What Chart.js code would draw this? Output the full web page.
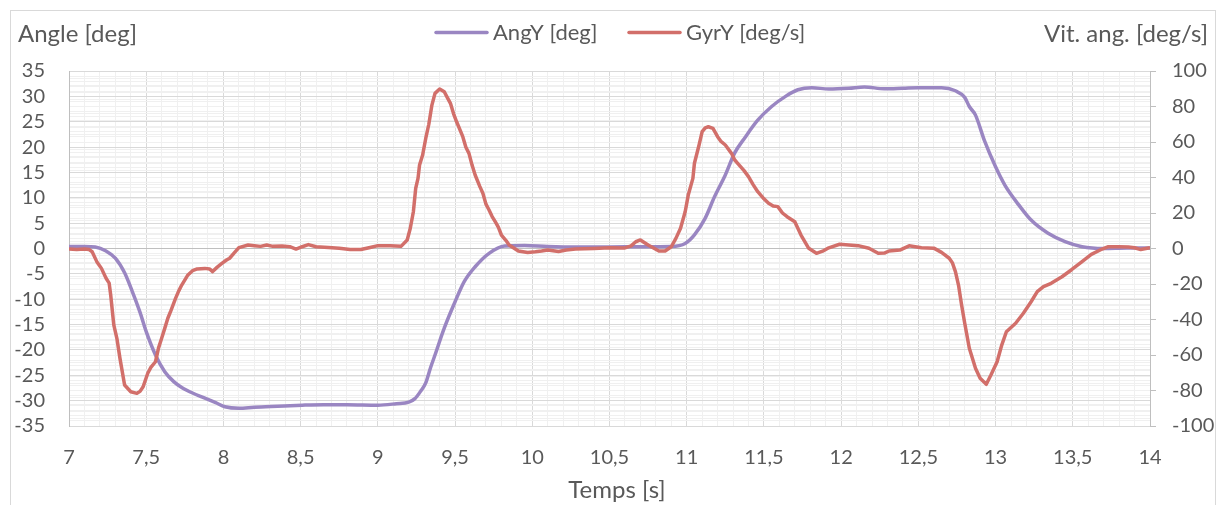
<!DOCTYPE html>
<html>
<head>
<meta charset="utf-8">
<script src="https://cdn.jsdelivr.net/npm/chart.js@4/dist/chart.umd.min.js"></script>
<style>
  html, body { margin: 0; padding: 0; background: #fff; }
  #wrap { width: 1223px; height: 505px; }
</style>
</head>
<body>
<div id="wrap"><canvas id="gyroChart" width="1223" height="505"></canvas></div>
<script>
// AngY [deg] - time (s) and angle
const angTime = [7.00, 7.10, 7.17, 7.24, 7.30, 7.36, 7.41, 7.46, 7.50, 7.56, 7.62, 7.68, 7.73, 7.80, 7.88, 7.95,
    8.01, 8.10, 8.20, 8.35, 8.51, 8.65, 8.80, 9.00, 9.12, 9.20, 9.24, 9.28, 9.31, 9.34, 9.37, 9.43, 9.50, 9.56,
    9.63, 9.72, 9.82, 9.95, 10.10, 10.30, 10.50, 10.70, 10.90, 10.99, 11.05, 11.12, 11.18, 11.25, 11.31, 11.38,
    11.46, 11.55, 11.64, 11.72, 11.81, 11.92, 12.05, 12.15, 12.28, 12.40, 12.50, 12.65, 12.74, 12.80, 12.83,
    12.87, 12.93, 13.00, 13.06, 13.15, 13.23, 13.34, 13.45, 13.56, 13.70, 13.85, 14.00];
const angValues = [0.4, 0.4, 0.3, -0.5, -1.9, -4.8, -8.5, -12.6, -16.4, -21.0, -24.3, -26.3, -27.4, -28.5, -29.5, -30.4,
    -31.2, -31.5, -31.3, -31.1, -30.9, -30.8, -30.8, -30.9, -30.6, -30.3, -29.6, -28.0, -26.5, -23.6, -21.0, -15.7, -10.5, -6.5,
    -3.6, -0.95, 0.5, 0.6, 0.4, 0.3, 0.3, 0.35, 0.4, 1.0, 2.7, 6.0, 10.2, 14.5, 18.8, 22.0,
    25.3, 28.0, 30.0, 31.3, 31.7, 31.45, 31.6, 31.85, 31.5, 31.6, 31.7, 31.7, 31.1, 29.8, 28.0,
    26.3, 21.1, 16.1, 12.5, 8.6, 5.6, 3.0, 1.35, 0.35, 0.0, 0.1, 0.1];

// GyrY [deg/s] - time (s) and angular rate
const gyrTime = [7.00, 7.05, 7.10, 7.13, 7.15, 7.18, 7.21, 7.24, 7.26, 7.27, 7.29, 7.31, 7.33, 7.36, 7.40, 7.44, 7.46,
    7.48, 7.51, 7.53, 7.56, 7.58, 7.60, 7.62, 7.64, 7.66, 7.69, 7.71, 7.73, 7.77, 7.80, 7.83, 7.88, 7.91, 7.93, 7.96,
    7.99, 8.02, 8.04, 8.07, 8.10, 8.16, 8.20, 8.24, 8.28, 8.32, 8.38, 8.43, 8.47, 8.51, 8.55, 8.60, 8.68, 8.75, 8.82,
    8.89, 8.95, 9.00, 9.08, 9.15, 9.19, 9.21, 9.23, 9.245, 9.26, 9.27, 9.29, 9.31, 9.33, 9.35, 9.37, 9.40, 9.43, 9.45,
    9.47, 9.49, 9.51, 9.55, 9.57, 9.59, 9.61, 9.63, 9.66, 9.68, 9.70, 9.72, 9.74, 9.76, 9.78, 9.80, 9.83, 9.85, 9.91,
    9.97, 10.02, 10.06, 10.10, 10.17, 10.22, 10.28, 10.40, 10.50, 10.60, 10.64, 10.67, 10.70, 10.75, 10.82, 10.86,
    10.90, 10.93, 10.96, 10.99, 11.01, 11.04, 11.05, 11.08, 11.10, 11.12, 11.14, 11.17, 11.20, 11.22, 11.25, 11.29,
    11.31, 11.33, 11.37, 11.40, 11.43, 11.46, 11.50, 11.53, 11.56, 11.59, 11.62, 11.65, 11.70, 11.74, 11.79, 11.84,
    11.88, 11.92, 11.99, 12.05, 12.11, 12.18, 12.24, 12.28, 12.31, 12.38, 12.44, 12.52, 12.60, 12.65, 12.70, 12.72,
    12.74, 12.76, 12.78, 12.80, 12.83, 12.87, 12.90, 12.94, 12.97, 13.01, 13.04, 13.07, 13.10, 13.13, 13.18, 13.23,
    13.27, 13.31, 13.36, 13.43, 13.49, 13.56, 13.62, 13.69, 13.73, 13.80, 13.86, 13.90, 13.94, 14.00];
const gyrValues = [-0.3, -0.5, -0.3, -0.6, -1.8, -7.4, -11.2, -16.8, -19.5, -26.2, -43, -50.6, -61.9, -76.9, -80.7, -81.6, -80.5,
    -77.9, -70.3, -67, -63.8, -56, -50.6, -45, -39.3, -35, -28.1, -24, -20.6, -14.9, -12.5, -11.5, -11.2, -11.5, -13.0, -10.5,
    -8.4, -6.5, -5.5, -2.5, 0.5, 2.0, 1.6, 1.2, 2.0, 1.2, 1.4, 1.0, -0.3, 1.0, 2.2, 1.0, 0.6, 0.2, -0.5,
    -0.6, 0.6, 1.6, 1.6, 1.2, 4.8, 11.4, 20.7, 33.9, 39.5, 47, 52.7, 62, 70, 80.8, 87.4, 89.9, 88.3, 85,
    81.8, 76, 71.4, 63, 57, 53.6, 47, 41.4, 35, 31.1, 25, 21.7, 18, 15.1, 12, 7.6, 4.5, 2.0, -1.4,
    -2.2, -1.8, -1.4, -0.9, -1.7, -0.8, -0.3, 0, 0.4, 0.3, 1.5, 3.8, 4.8, 2.0, -1.4, -1.4,
    1.0, 5.7, 11.4, 20.7, 30.1, 39.5, 48, 58.3, 65.8, 68, 68.6, 67.7, 63, 60.5, 58.3, 53.6,
    50, 48, 44, 40.5, 36, 32, 28, 25.5, 24, 23.6, 20, 17.9, 15.1, 7.6, 0.1, -2.7,
    -1.5, 0.4, 2.4, 2.0, 1.6, 0.1, -2.7, -2.6, -1.4, -0.9, 1.5, 0.4, 0.2, -2.2, -5.5, -8,
    -13, -20.6, -31.8, -42, -56.2, -67.5, -73.1, -76.5, -71.3, -63.8, -54.4, -46.9, -44.5, -42.1, -36.5, -30.0,
    -24.3, -21.5, -19.6, -15.9, -12.1, -7.4, -3.3, -0.3, 1.0, 1.0, 0.8, 0.4, -0.6, 0.4];

// axis ranges
const timeRange = [7, 14];
const angleRange = [-35, 35];
const rateRange = [-100, 100];

const purple = '#9a86c2';
const red = '#d26f6a';
const textColor = '#595959';
const majorGrid = '#d9d9d9';
const minorGrid = '#f0f0f0';
const fontFamily = 'Lato, "Open Sans", sans-serif';

Chart.defaults.font.family = fontFamily;
Chart.defaults.font.size = 20;
Chart.defaults.color = textColor;

function toPoints(xs, ys) {
    return xs.map((x, i) => ({ x: x, y: ys[i] }));
}

// titles, legend and outer frame drawn around the plot
const decorations = {
    id: 'decorations',
    beforeDraw(chart) {
        const ctx = chart.ctx;
        ctx.save();
        ctx.fillStyle = '#ffffff';
        ctx.fillRect(0, 0, chart.width, chart.height);
        ctx.strokeStyle = '#d9d9d9';
        ctx.lineWidth = 1;
        ctx.strokeRect(10.5, 10.5, 1205, 600);
        ctx.restore();
    },
    afterDraw(chart) {
        const ctx = chart.ctx;
        ctx.save();
        ctx.fillStyle = textColor;
        ctx.textBaseline = 'alphabetic';

        ctx.font = '24px ' + fontFamily;
        ctx.textAlign = 'left';
        ctx.fillText('Angle [deg]', 18, 42);
        ctx.textAlign = 'right';
        ctx.fillText('Vit. ang. [deg/s]', 1208, 42);

        // legend
        ctx.font = '22px ' + fontFamily;
        ctx.textAlign = 'left';
        ctx.lineWidth = 3.5;
        ctx.lineCap = 'round';
        ctx.strokeStyle = purple;
        ctx.beginPath(); ctx.moveTo(436, 32.5); ctx.lineTo(487, 32.5); ctx.stroke();
        ctx.fillText('AngY [deg]', 493, 40);
        ctx.strokeStyle = red;
        ctx.beginPath(); ctx.moveTo(629, 32.5); ctx.lineTo(680, 32.5); ctx.stroke();
        ctx.fillText('GyrY [deg/s]', 686, 40);

        // x-axis title
        ctx.font = '24px ' + fontFamily;
        ctx.textAlign = 'center';
        ctx.textBaseline = 'middle';
        ctx.fillText('Temps [s]', 617, 490);
        ctx.restore();
    }
};

createChart('gyroChart', {
    type: 'line',
    data: {
        datasets: [
            {
                label: 'AngY [deg]',
                data: toPoints(angTime, angValues),
                borderColor: purple,
                backgroundColor: purple,
                borderWidth: 3.5,
                pointRadius: 0,
                cubicInterpolationMode: 'monotone',
                yAxisID: 'y',
                order: 1
            },
            {
                label: 'GyrY [deg/s]',
                data: toPoints(gyrTime, gyrValues),
                borderColor: red,
                backgroundColor: red,
                borderWidth: 3.5,
                pointRadius: 0,
                tension: 0,
                borderJoinStyle: 'round',
                yAxisID: 'y1',
                order: 0
            }
        ]
    },
    options: {
        responsive: false,
        animation: false,
        layout: { padding: { top: 71, left: 0, right: 0, bottom: 0 } },
        plugins: {
            legend: { display: false },
            tooltip: { enabled: false }
        },
        scales: {
            x: {
                type: 'linear',
                min: timeRange[0],
                max: timeRange[1],
                afterFit: function (scale) { scale.height = 79; },
                ticks: {
                    stepSize: 0.1,
                    autoSkip: false,
                    maxRotation: 0,
                    padding: 20,
                    callback: function (value) {
                        const tenth = Math.round(value * 10);
                        if (tenth % 5 !== 0) return '';
                        return (tenth / 10).toString().replace('.', ',');
                    }
                },
                grid: {
                    drawTicks: false,
                    color: function (c) {
                        const tenth = Math.round(c.tick.value * 10);
                        return tenth % 5 === 0 ? majorGrid : minorGrid;
                    }
                },
                border: { display: false }
            },
            y: {
                position: 'left',
                min: angleRange[0],
                max: angleRange[1],
                afterFit: function (scale) { scale.width = 69; },
                ticks: {
                    stepSize: 1,
                    autoSkip: false,
                    padding: 24,
                    callback: function (value) {
                        const v = Math.round(value);
                        return v % 5 === 0 ? String(v) : '';
                    }
                },
                grid: {
                    drawTicks: false,
                    color: function (c) {
                        const v = Math.round(c.tick.value);
                        if (v === 0) return '#bfbfbf';
                        return v % 5 === 0 ? majorGrid : minorGrid;
                    }
                },
                border: { display: true, color: '#bfbfbf' }
            },
            y1: {
                position: 'right',
                min: rateRange[0],
                max: rateRange[1],
                afterFit: function (scale) { scale.width = 73; },
                ticks: {
                    stepSize: 4,
                    autoSkip: false,
                    padding: 16,
                    callback: function (value) {
                        const v = Math.round(value);
                        return v % 20 === 0 ? String(v) : '';
                    }
                },
                grid: {
                    drawTicks: true,
                    tickLength: 6,
                    color: function (c) {
                        const v = Math.round(c.tick.value);
                        if (v % 20 === 0) return 'rgba(0,0,0,0)';
                        return minorGrid;
                    },
                    tickColor: function (c) {
                        const v = Math.round(c.tick.value);
                        return v % 20 === 0 ? '#bfbfbf' : 'rgba(0,0,0,0)';
                    }
                },
                border: { display: true, color: '#bfbfbf' }
            }
        }
    },
    plugins: [decorations]
});

function createChart(id, config) {
    const ctx = document.getElementById(id);
    if (!ctx) {
        console.error(`Canvas element with id '${id}' not found`);
        return;
    }
    if (ctx.chart) {
        ctx.chart.destroy();
    }
    ctx.chart = new Chart(ctx, config);
}
</script>
</body>
</html>
